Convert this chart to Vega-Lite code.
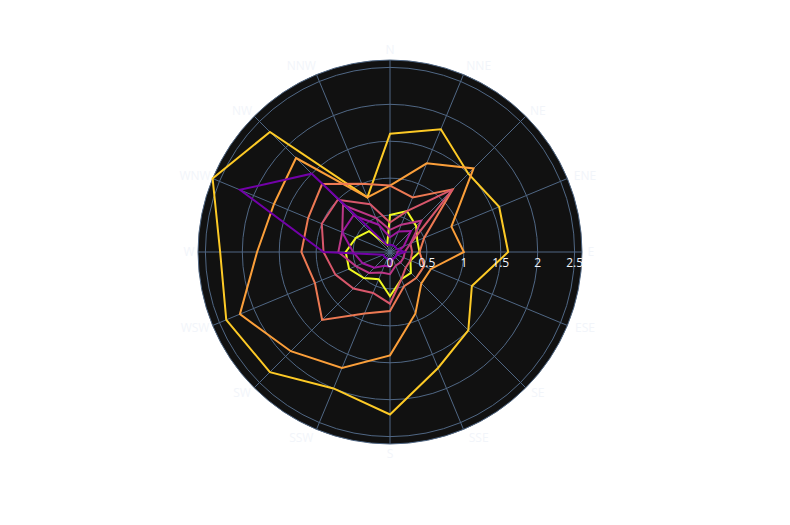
{
  "$schema": "https://vega.github.io/schema/vega-lite/v6.json",
  "width": 384,
  "height": 384,
  "autosize": {"type": "none"},
  "padding": {"left": 198, "top": 60, "right": 208, "bottom": 81},
  "background": "white",
  "config": {"view": {"stroke": null}, "font": "Open Sans"},
  "datasets": {
    "dirs": [
      {"direction": "N"}, {"direction": "NNE"}, {"direction": "NE"}, {"direction": "ENE"},
      {"direction": "E"}, {"direction": "ESE"}, {"direction": "SE"}, {"direction": "SSE"},
      {"direction": "S"}, {"direction": "SSW"}, {"direction": "SW"}, {"direction": "WSW"},
      {"direction": "W"}, {"direction": "WNW"}, {"direction": "NW"}, {"direction": "NNW"}
    ],
    "rings": [{"r": 0.5}, {"r": 1}, {"r": 1.5}, {"r": 2}, {"r": 2.5}],
    "ticks": [{"r": 0}, {"r": 0.5}, {"r": 1}, {"r": 1.5}, {"r": 2}, {"r": 2.5}],
    "wind": [
      {"direction": "N", "strength": "0-1", "frequency": 0.5},
      {"direction": "NNE", "strength": "0-1", "frequency": 0.6},
      {"direction": "NE", "strength": "0-1", "frequency": 0.5},
      {"direction": "ENE", "strength": "0-1", "frequency": 0.4},
      {"direction": "E", "strength": "0-1", "frequency": 0.4},
      {"direction": "ESE", "strength": "0-1", "frequency": 0.3},
      {"direction": "SE", "strength": "0-1", "frequency": 0.4},
      {"direction": "SSE", "strength": "0-1", "frequency": 0.4},
      {"direction": "S", "strength": "0-1", "frequency": 0.6},
      {"direction": "SSW", "strength": "0-1", "frequency": 0.4},
      {"direction": "SW", "strength": "0-1", "frequency": 0.5},
      {"direction": "WSW", "strength": "0-1", "frequency": 0.6},
      {"direction": "W", "strength": "0-1", "frequency": 0.6},
      {"direction": "WNW", "strength": "0-1", "frequency": 0.5},
      {"direction": "NW", "strength": "0-1", "frequency": 0.4},
      {"direction": "NNW", "strength": "0-1", "frequency": 0.1},
      {"direction": "N", "strength": "1-2", "frequency": 1.6},
      {"direction": "NNE", "strength": "1-2", "frequency": 1.8},
      {"direction": "NE", "strength": "1-2", "frequency": 1.5},
      {"direction": "ENE", "strength": "1-2", "frequency": 1.6},
      {"direction": "E", "strength": "1-2", "frequency": 1.6},
      {"direction": "ESE", "strength": "1-2", "frequency": 1.2},
      {"direction": "SE", "strength": "1-2", "frequency": 1.5},
      {"direction": "SSE", "strength": "1-2", "frequency": 1.7},
      {"direction": "S", "strength": "1-2", "frequency": 2.2},
      {"direction": "SSW", "strength": "1-2", "frequency": 2.0},
      {"direction": "SW", "strength": "1-2", "frequency": 2.3},
      {"direction": "WSW", "strength": "1-2", "frequency": 2.4},
      {"direction": "W", "strength": "1-2", "frequency": 2.3},
      {"direction": "WNW", "strength": "1-2", "frequency": 2.6},
      {"direction": "NW", "strength": "1-2", "frequency": 2.3},
      {"direction": "NNW", "strength": "1-2", "frequency": 0.8},
      {"direction": "N", "strength": "2-3", "frequency": 0.9},
      {"direction": "NNE", "strength": "2-3", "frequency": 1.3},
      {"direction": "NE", "strength": "2-3", "frequency": 1.6},
      {"direction": "ENE", "strength": "2-3", "frequency": 0.9},
      {"direction": "E", "strength": "2-3", "frequency": 1.0},
      {"direction": "ESE", "strength": "2-3", "frequency": 0.6},
      {"direction": "SE", "strength": "2-3", "frequency": 0.6},
      {"direction": "SSE", "strength": "2-3", "frequency": 0.9},
      {"direction": "S", "strength": "2-3", "frequency": 1.4},
      {"direction": "SSW", "strength": "2-3", "frequency": 1.7},
      {"direction": "SW", "strength": "2-3", "frequency": 1.9},
      {"direction": "WSW", "strength": "2-3", "frequency": 2.2},
      {"direction": "W", "strength": "2-3", "frequency": 1.8},
      {"direction": "WNW", "strength": "2-3", "frequency": 1.7},
      {"direction": "NW", "strength": "2-3", "frequency": 1.8},
      {"direction": "NNW", "strength": "2-3", "frequency": 0.8},
      {"direction": "N", "strength": "3-4", "frequency": 0.9},
      {"direction": "NNE", "strength": "3-4", "frequency": 0.8},
      {"direction": "NE", "strength": "3-4", "frequency": 1.2},
      {"direction": "ENE", "strength": "3-4", "frequency": 0.5},
      {"direction": "E", "strength": "3-4", "frequency": 0.4},
      {"direction": "ESE", "strength": "3-4", "frequency": 0.5},
      {"direction": "SE", "strength": "3-4", "frequency": 0.5},
      {"direction": "SSE", "strength": "3-4", "frequency": 0.5},
      {"direction": "S", "strength": "3-4", "frequency": 0.8},
      {"direction": "SSW", "strength": "3-4", "frequency": 0.9},
      {"direction": "SW", "strength": "3-4", "frequency": 1.3},
      {"direction": "WSW", "strength": "3-4", "frequency": 1.1},
      {"direction": "W", "strength": "3-4", "frequency": 1.2},
      {"direction": "WNW", "strength": "3-4", "frequency": 1.2},
      {"direction": "NW", "strength": "3-4", "frequency": 1.3},
      {"direction": "NNW", "strength": "3-4", "frequency": 1.0},
      {"direction": "N", "strength": "4-5", "frequency": 0.4},
      {"direction": "NNE", "strength": "4-5", "frequency": 0.6},
      {"direction": "NE", "strength": "4-5", "frequency": 1.2},
      {"direction": "ENE", "strength": "4-5", "frequency": 0.3},
      {"direction": "E", "strength": "4-5", "frequency": 0.3},
      {"direction": "ESE", "strength": "4-5", "frequency": 0.3},
      {"direction": "SE", "strength": "4-5", "frequency": 0.3},
      {"direction": "SSE", "strength": "4-5", "frequency": 0.4},
      {"direction": "S", "strength": "4-5", "frequency": 0.7},
      {"direction": "SSW", "strength": "4-5", "frequency": 0.6},
      {"direction": "SW", "strength": "4-5", "frequency": 0.7},
      {"direction": "WSW", "strength": "4-5", "frequency": 0.8},
      {"direction": "W", "strength": "4-5", "frequency": 0.9},
      {"direction": "WNW", "strength": "4-5", "frequency": 1.0},
      {"direction": "NW", "strength": "4-5", "frequency": 1.0},
      {"direction": "NNW", "strength": "4-5", "frequency": 0.7},
      {"direction": "N", "strength": "5-6", "frequency": 0.3},
      {"direction": "NNE", "strength": "5-6", "frequency": 0.4},
      {"direction": "NE", "strength": "5-6", "frequency": 0.6},
      {"direction": "ENE", "strength": "5-6", "frequency": 0.3},
      {"direction": "E", "strength": "5-6", "frequency": 0.2},
      {"direction": "ESE", "strength": "5-6", "frequency": 0.2},
      {"direction": "SE", "strength": "5-6", "frequency": 0.2},
      {"direction": "SSE", "strength": "5-6", "frequency": 0.2},
      {"direction": "S", "strength": "5-6", "frequency": 0.3},
      {"direction": "SSW", "strength": "5-6", "frequency": 0.3},
      {"direction": "SW", "strength": "5-6", "frequency": 0.4},
      {"direction": "WSW", "strength": "5-6", "frequency": 0.5},
      {"direction": "W", "strength": "5-6", "frequency": 0.7},
      {"direction": "WNW", "strength": "5-6", "frequency": 0.7},
      {"direction": "NW", "strength": "5-6", "frequency": 0.9},
      {"direction": "NNW", "strength": "5-6", "frequency": 0.5},
      {"direction": "N", "strength": "6-7", "frequency": 0.2},
      {"direction": "NNE", "strength": "6-7", "frequency": 0.3},
      {"direction": "NE", "strength": "6-7", "frequency": 0.4},
      {"direction": "ENE", "strength": "6-7", "frequency": 0.2},
      {"direction": "E", "strength": "6-7", "frequency": 0.1},
      {"direction": "ESE", "strength": "6-7", "frequency": 0.1},
      {"direction": "SE", "strength": "6-7", "frequency": 0.1},
      {"direction": "SSE", "strength": "6-7", "frequency": 0.1},
      {"direction": "S", "strength": "6-7", "frequency": 0.2},
      {"direction": "SSW", "strength": "6-7", "frequency": 0.2},
      {"direction": "SW", "strength": "6-7", "frequency": 0.3},
      {"direction": "WSW", "strength": "6-7", "frequency": 0.4},
      {"direction": "W", "strength": "6-7", "frequency": 0.5},
      {"direction": "WNW", "strength": "6-7", "frequency": 0.7},
      {"direction": "NW", "strength": "6-7", "frequency": 0.7},
      {"direction": "NNW", "strength": "6-7", "frequency": 0.4},
      {"direction": "N", "strength": "7+", "frequency": 0.1},
      {"direction": "NNE", "strength": "7+", "frequency": 0.1},
      {"direction": "NE", "strength": "7+", "frequency": 0.1},
      {"direction": "ENE", "strength": "7+", "frequency": 0.1},
      {"direction": "E", "strength": "7+", "frequency": 0.2},
      {"direction": "ESE", "strength": "7+", "frequency": 0.1},
      {"direction": "SE", "strength": "7+", "frequency": 0.1},
      {"direction": "SSE", "strength": "7+", "frequency": 0.1},
      {"direction": "S", "strength": "7+", "frequency": 0.1},
      {"direction": "SSW", "strength": "7+", "frequency": 0.1},
      {"direction": "SW", "strength": "7+", "frequency": 0.1},
      {"direction": "WSW", "strength": "7+", "frequency": 0.1},
      {"direction": "W", "strength": "7+", "frequency": 0.9},
      {"direction": "WNW", "strength": "7+", "frequency": 2.2},
      {"direction": "NW", "strength": "7+", "frequency": 1.5},
      {"direction": "NNW", "strength": "7+", "frequency": 0.1}
    ]
  },
  "layer": [
    {
      "data": {"values": [{"r": 2.6}]},
      "mark": {"type": "point", "shape": "circle", "filled": true, "fill": "#111111", "stroke": "#506784", "strokeWidth": 1, "opacity": 1},
      "encoding": {
        "x": {"datum": 0, "type": "quantitative", "scale": {"domain": [-2.6, 2.6], "nice": false, "zero": false}, "axis": null},
        "y": {"datum": 0, "type": "quantitative", "scale": {"domain": [-2.6, 2.6], "nice": false, "zero": false}, "axis": null},
        "size": {"field": "r", "type": "quantitative", "scale": {"type": "pow", "exponent": 2, "domain": [0, 2.6], "range": [0, 147456]}, "legend": null}
      }
    },
    {
      "data": {"name": "rings"},
      "mark": {"type": "point", "shape": "circle", "filled": false, "stroke": "#506784", "strokeWidth": 1, "opacity": 1},
      "encoding": {
        "x": {"datum": 0, "type": "quantitative"},
        "y": {"datum": 0, "type": "quantitative"},
        "size": {"field": "r", "type": "quantitative", "legend": null}
      }
    },
    {
      "data": {"name": "dirs"},
      "transform": [
        {"calculate": "indexof(['N','NNE','NE','ENE','E','ESE','SE','SSE','S','SSW','SW','WSW','W','WNW','NW','NNW'], datum.direction) * PI / 8", "as": "a"},
        {"calculate": "2.6 * sin(datum.a)", "as": "ex"},
        {"calculate": "2.6 * cos(datum.a)", "as": "ey"}
      ],
      "mark": {"type": "rule", "stroke": "#506784", "strokeWidth": 1},
      "encoding": {
        "x": {"field": "ex", "type": "quantitative"},
        "y": {"field": "ey", "type": "quantitative"},
        "x2": {"datum": 0},
        "y2": {"datum": 0}
      }
    },
    {
      "data": {"name": "dirs"},
      "transform": [
        {"calculate": "indexof(['N','NNE','NE','ENE','E','ESE','SE','SSE','S','SSW','SW','WSW','W','WNW','NW','NNW'], datum.direction) * PI / 8", "as": "a"},
        {"calculate": "2.66 * sin(datum.a) + 0.061 * length(datum.direction) * (sin(datum.a) > 0.01 ? 1 : (sin(datum.a) < -0.01 ? -1 : 0))", "as": "lx"},
        {"calculate": "2.66 * cos(datum.a) + 0.081 * pow(cos(datum.a), 3)", "as": "ly"}
      ],
      "mark": {"type": "text", "fontSize": 12, "font": "Open Sans", "color": "#f2f5fa", "align": "center", "baseline": "middle"},
      "encoding": {
        "x": {"field": "lx", "type": "quantitative"},
        "y": {"field": "ly", "type": "quantitative"},
        "text": {"field": "direction", "type": "nominal"}
      }
    },
    {
      "data": {"name": "wind"},
      "transform": [
        {"calculate": "indexof(['N','NNE','NE','ENE','E','ESE','SE','SSE','S','SSW','SW','WSW','W','WNW','NW','NNW'], datum.direction)", "as": "idx"},
        {"calculate": "datum.frequency * sin(datum.idx * PI / 8)", "as": "px"},
        {"calculate": "datum.frequency * cos(datum.idx * PI / 8)", "as": "py"}
      ],
      "mark": {"type": "line", "interpolate": "linear-closed", "strokeWidth": 2},
      "encoding": {
        "x": {"field": "px", "type": "quantitative"},
        "y": {"field": "py", "type": "quantitative"},
        "order": {"field": "idx", "type": "quantitative"},
        "color": {
          "field": "strength",
          "type": "nominal",
          "scale": {
            "domain": ["0-1", "1-2", "2-3", "3-4", "4-5", "5-6", "6-7", "7+"],
            "range": ["#f0f921", "#fdca26", "#fb9f3a", "#ed7953", "#d8576b", "#bd3786", "#9c179e", "#7201a8"]
          },
          "legend": null
        }
      }
    },
    {
      "data": {"name": "ticks"},
      "mark": {"type": "text", "fontSize": 12, "font": "Open Sans", "color": "#f2f5fa", "align": "center", "baseline": "middle", "dy": 11},
      "encoding": {
        "x": {"field": "r", "type": "quantitative"},
        "y": {"datum": 0, "type": "quantitative"},
        "text": {"field": "r", "type": "quantitative", "format": "~g"}
      }
    }
  ]
}
